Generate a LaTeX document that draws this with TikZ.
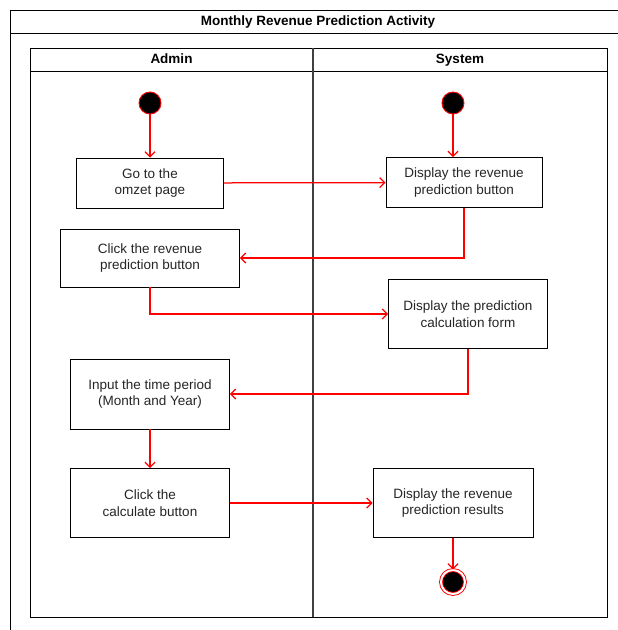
\documentclass[tikz,border=0pt]{standalone}
\usepackage{fontspec}
\setmainfont{Liberation Sans}
\usetikzlibrary{arrows.meta,positioning}
\tikzset{act node/.style={rectangle,draw=black,fill=white,align=center,inner sep=2pt,text=black!85,font=\fontsize{13.5}{16.5}\selectfont},
         start node/.style={circle,fill=black,draw=red,minimum size=22pt,inner sep=0pt},
         end node/.style={circle,fill=black,draw=red,double=white,double distance=2pt,minimum size=24pt,inner sep=0pt},
         lane head/.style={rectangle,draw=none,fill=none,text height=9.5pt,text depth=2.5pt,font=\bfseries\fontsize{13.5}{16}\selectfont},
         flow/.style={red,line width=1.25pt,-{Straight Barb[length=5pt,width=10pt]}},
}

\begin{document}
\begin{tikzpicture}[x=1pt,y=-1pt,line width=0.9pt]

\useasboundingbox (0,0) rectangle (618,630);

% outer frame and title
\draw (10,630) -- (10,10) -- (618,10);
\draw (10,33) -- (618,33);
\node[lane head] (title) at (318,22) {Monthly Revenue Prediction Activity};

% swimlanes
\draw (30,48) rectangle (607,617);
\draw (30,71) -- (607,71);
\draw[black!75,line width=1.3pt] (313,48) -- (313,617);
\node[lane head] (admin) at (171.5,60) {Admin};
\node[lane head] (system) at (460,60) {System};

% admin side
\node[start node] (astart) at (150,103) {};
\node[act node,minimum width=147pt,minimum height=50pt] (omzet) at (150,183) {Go to the\\omzet page};
\node[act node,minimum width=179pt,minimum height=58pt] (clickbtn) at (150,258) {Click the revenue\\prediction button};
\node[act node,minimum width=159pt,minimum height=70pt] (period) at (150,394) {Input the time period\\(Month and Year)};
\node[act node,minimum width=159pt,minimum height=69pt] (calc) at (150,503) {Click the\\calculate button};

% system side
\node[start node] (sstart) at (453,103) {};
\node[act node,minimum width=156pt,minimum height=50pt] (showbtn) at (464,182.5) {Display the revenue\\prediction button};
\node[act node,minimum width=159pt,minimum height=69pt] (form) at (468,314) {Display the prediction\\calculation form};
\node[act node,minimum width=160pt,minimum height=69pt] (result) at (453,503) {Display the revenue\\prediction results};
\node[end node] (stop) at (453,582) {};

% flows
\draw[flow] (astart) -- (omzet);
\draw[flow] (sstart) -- (sstart |- showbtn.north);
\draw[flow] (omzet) -- (showbtn);
\draw[flow] (showbtn.south) |- (clickbtn.east);
\draw[flow] (clickbtn.south) |- (form.west);
\draw[flow] (form.south) |- (period.east);
\draw[flow] (period) -- (calc);
\draw[flow] (calc) -- (result);
\draw[flow] (result) -- (stop);
\end{tikzpicture}
\end{document}
